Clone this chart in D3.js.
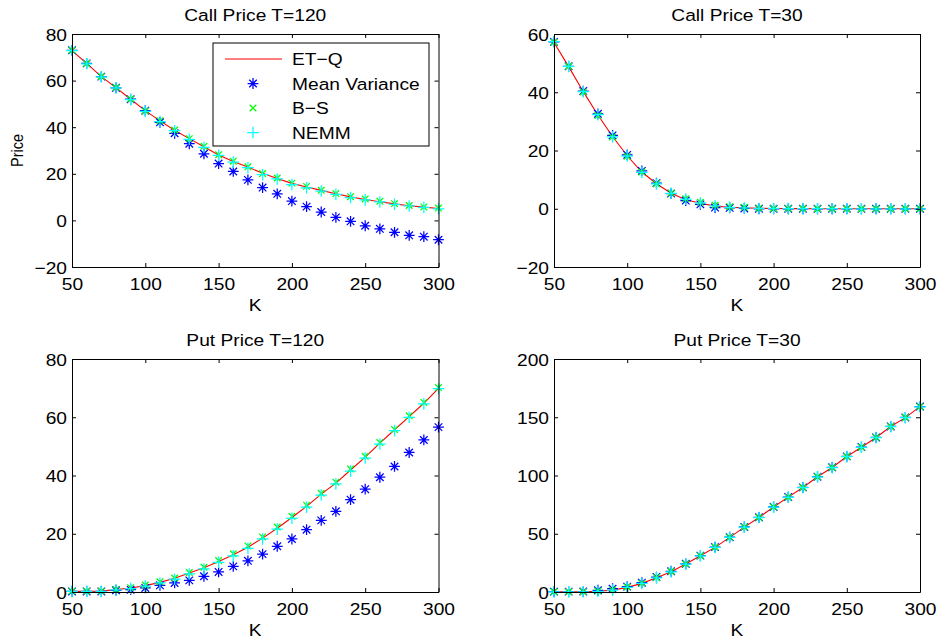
<!DOCTYPE html>
<html><head><meta charset="utf-8">
<script src="https://cdn.jsdelivr.net/npm/d3@7"></script>
<style>body{margin:0;background:#fff}svg{display:block}text{font-family:"Liberation Sans",Arial,Helvetica,sans-serif;fill:#000}</style>
</head><body>
<script>
// ---------- data ----------
const strikes = [50,60,70,80,90,100,110,120,130,140,150,160,170,180,190,200,210,220,230,240,250,260,270,280,290,300];
const seriesNames = ["ET\u2212Q","Mean Variance","B\u2212S","NEMM"];
const panelTitles = ["Call Price T=120","Call Price T=30","Put Price T=120","Put Price T=30"];
const xTicks = [50,100,150,200,250,300];
const yTicksCall120 = [-20,0,20,40,60,80];
const yTicksCall30 = [-20,0,20,40,60];
const yTicksPut120 = [0,20,40,60,80];
const yTicksPut30 = [0,50,100,150,200];

const call120_ETQ  = [72.9,67.4,61.7,57.0,52.0,47.1,42.7,38.7,35.1,31.6,28.1,25.3,22.9,20.2,18.0,15.9,14.3,12.9,11.4,10.1,9.0,8.0,7.1,6.3,5.7,5.1];
const call120_MV   = [73.0,67.4,61.7,56.9,52.0,47.1,42.1,37.4,32.9,28.6,24.4,21.0,17.4,14.1,11.4,8.3,5.9,3.6,1.3,-0.4,-2.3,-3.6,-5.1,-6.4,-7.0,-8.3];
const call120_BS   = [73.0,67.3,61.8,57.0,52.1,47.0,42.8,38.8,35.1,31.8,28.2,25.4,23.0,20.1,18.2,16.0,14.6,12.9,11.5,10.2,9.2,8.2,7.2,6.4,5.8,5.3];
const call120_NEMM = [72.9,67.2,61.6,56.9,51.8,46.8,42.4,38.5,34.8,31.3,27.9,25.0,22.6,19.6,17.8,15.4,14.0,12.6,11.2,9.8,8.8,7.9,6.9,6.2,5.6,5.0];

const call30_ETQ   = [57.1,48.8,40.2,32.2,24.8,18.2,12.6,8.6,5.3,3.1,1.9,0.9,0.5,0.3,0.15,0.1,0.05,0.03,0.02,0.01,0.01,0,0,0,0,0];
const call30_MV    = [57.3,48.9,40.4,32.6,25.2,18.5,13.0,8.8,5.2,2.8,1.5,0.4,0.3,0.1,0,0,0,0,0,0,0,0,0,0,0,0];
const call30_BS    = [57.2,48.9,40.1,32.0,24.6,18.0,12.6,8.6,5.4,3.4,2.2,1.2,0.7,0.5,0.2,0.1,0.1,0.05,0.03,0.02,0.01,0,0,0,0,0];
const call30_NEMM  = [57.4,48.9,40.2,32.3,24.7,18.1,12.5,8.5,5.3,3.3,2.0,1.0,0.5,0.3,0.1,0.1,0.05,0.03,0.02,0.01,0.01,0,0,0,0,0];

const put120_ETQ   = [0.2,0.2,0.3,0.8,1.4,2.2,3.3,4.7,6.5,8.3,10.5,12.8,15.4,18.5,21.9,25.6,29.4,33.6,37.4,41.9,46.3,51.1,55.7,60.2,64.8,69.9];
const put120_MV    = [0.2,0.2,0.2,0.6,0.8,1.4,2.3,3.1,4.0,5.4,6.9,8.8,10.7,13.0,15.7,18.2,21.4,24.6,27.7,31.7,35.3,39.4,43.1,47.9,52.2,56.6];
const put120_BS    = [0.3,0.3,0.3,0.9,1.5,2.4,3.5,4.8,6.7,8.5,10.8,13.1,15.8,18.9,22.3,26.0,29.8,33.9,37.7,42.2,46.6,51.3,55.8,60.5,65.1,70.2];
const put120_NEMM  = [0.2,0.2,0.2,0.7,1.2,2.0,3.1,4.4,6.2,7.9,10.2,12.4,15.0,18.2,21.6,25.3,29.1,33.3,37.1,41.5,46.0,50.8,55.4,60.0,64.6,69.8];

const put30_ETQ    = [0.1,0.1,0.2,0.6,1.6,4.0,7.4,12.2,17.4,24.0,31.1,38.3,46.9,55.7,64.0,72.9,81.4,89.7,98.9,106.9,116.3,124.3,132.6,142.0,149.7,159.1];
const put30_MV     = [0.3,0.3,0.4,1.5,2.8,4.6,8.0,12.8,17.8,24.2,31.2,38.5,47.0,55.8,64.1,73.0,81.5,89.8,99.0,107.0,116.4,124.4,132.7,142.1,149.8,159.2];
const put30_BS     = [0.2,0.2,0.3,0.8,1.9,4.3,7.6,12.4,17.5,24.1,31.1,38.4,46.9,55.8,64.0,72.9,81.4,89.7,98.9,106.9,116.3,124.3,132.6,142.0,149.7,159.1];
const put30_NEMM   = [0.1,0.1,0.2,0.6,1.6,3.9,7.3,12.1,17.3,23.9,31.0,38.2,46.8,55.6,63.9,72.8,81.3,89.6,98.8,106.8,116.2,124.2,132.5,141.9,149.6,159.0];

// ---------- layout ----------
const W = 941, H = 642;
const SX = 1.13; // horizontal text stretch of the original rendering
const FONT = 17;
const panels = [
  {title: panelTitles[0], x0: 72,  x1: 438.5, y0: 34,  y1: 267, yTicks: yTicksCall120, s: [call120_ETQ, call120_MV, call120_BS, call120_NEMM], legend: true, ylabel: "Price"},
  {title: panelTitles[1], x0: 554, x1: 920,   y0: 34,  y1: 267, yTicks: yTicksCall30,  s: [call30_ETQ, call30_MV, call30_BS, call30_NEMM]},
  {title: panelTitles[2], x0: 72,  x1: 438.5, y0: 359, y1: 592, yTicks: yTicksPut120,  s: [put120_ETQ, put120_MV, put120_BS, put120_NEMM]},
  {title: panelTitles[3], x0: 554, x1: 920,   y0: 359, y1: 592, yTicks: yTicksPut30,   s: [put30_ETQ, put30_MV, put30_BS, put30_NEMM]}
];

const svg = d3.select("body").append("svg").attr("width", W).attr("height", H);
svg.append("rect").attr("width", W).attr("height", H).attr("fill", "#fff");

function label(g, x, y, s, size, anchor, rot) {
  return g.append("text")
    .attr("transform", `translate(${x},${y}) scale(${SX},1)` + (rot ? " rotate(-90)" : ""))
    .attr("text-anchor", anchor).style("font-size", size + "px").text(s);
}

const markers = {
  star: r => { const d = r * 0.7; return `M${-r},0H${r}M0,${-r}V${r}M${-d},${-d}L${d},${d}M${-d},${d}L${d},${-d}`; },
  cross: r => `M${-r},${-r}L${r},${r}M${-r},${r}L${r},${-r}`,
  plus: r => `M${-r},0H${r}M0,${-r}V${r}`
};
const styles = [
  null,
  {path: markers.star(5.4), color: "#0000ff"},
  {path: markers.cross(3.3), color: "#00ff00"},
  {path: markers.plus(5.8), color: "#00ffff"}
];

panels.forEach(p => {
  const g = svg.append("g");
  const x = d3.scaleLinear().domain([50, 300]).range([p.x0, p.x1]);
  const yDom = d3.extent(p.yTicks);
  const y = d3.scaleLinear().domain(yDom).range([p.y1, p.y0]);

  const clipId = "clip" + p.x0 + "_" + p.y0;
  g.append("clipPath").attr("id", clipId).append("rect")
    .attr("x", p.x0 - 8).attr("y", p.y0 - 8).attr("width", p.x1 - p.x0 + 16).attr("height", p.y1 - p.y0 + 16);
  const plot = g.append("g").attr("clip-path", `url(#${clipId})`);

  // ET-Q line
  plot.append("path").datum(p.s[0])
    .attr("fill", "none").attr("stroke", "#ff0000").attr("stroke-width", 1.1)
    .attr("d", d3.line().x((d, i) => x(strikes[i])).y(d => y(d)));

  // markers
  for (let k = 1; k <= 3; k++) {
    plot.append("g").selectAll("path").data(p.s[k]).join("path")
      .attr("transform", (d, i) => `translate(${x(strikes[i])},${y(d)})`)
      .attr("d", styles[k].path).attr("fill", "none")
      .attr("stroke", styles[k].color).attr("stroke-width", 1.25);
  }

  // axes (inward ticks on all four sides)
  const tl = 4;
  const ax = g.append("g");
  const bottom = ax.append("g").attr("transform", `translate(0,${p.y1})`)
    .call(d3.axisBottom(x).tickValues(xTicks).tickSize(-tl).tickSizeOuter(0).tickPadding(11).tickFormat(d3.format("d")));
  ax.append("g").attr("transform", `translate(0,${p.y0})`)
    .call(d3.axisTop(x).tickValues(xTicks).tickSize(-tl).tickSizeOuter(0).tickFormat(""));
  const left = ax.append("g").attr("transform", `translate(${p.x0},0)`)
    .call(d3.axisLeft(y).tickValues(p.yTicks).tickSize(-tl).tickSizeOuter(0).tickPadding(5).tickFormat(d3.format("d")));
  ax.append("g").attr("transform", `translate(${p.x1},0)`)
    .call(d3.axisRight(y).tickValues(p.yTicks).tickSize(-tl).tickSizeOuter(0).tickFormat(""));
  ax.selectAll(".domain, .tick line").attr("stroke", "#000").attr("stroke-width", 1);
  ax.selectAll(".tick text").style("font-size", FONT + "px")
    .style("font-family", '"Liberation Sans",Arial,Helvetica,sans-serif').attr("fill", "#000");
  bottom.selectAll(".tick text").attr("transform", `scale(${SX},1)`).attr("dy", null).attr("y", 23);
  left.selectAll(".tick text").attr("transform", `scale(${SX},1)`).attr("x", -5 / SX).attr("dy", "0.36em");

  // titles and labels
  const cx = (p.x0 + p.x1) / 2;
  label(g, cx, p.y0 - 13, p.title, FONT, "middle");
  label(g, cx, p.y1 + 44, "K", FONT, "middle");
  if (p.ylabel) label(g, 23, (p.y0 + p.y1) / 2, p.ylabel, 14.5, "middle", true);

  // legend
  if (p.legend) {
    const lg = g.append("g");
    lg.append("rect").attr("x", 213).attr("y", 43).attr("width", 216).attr("height", 103)
      .attr("fill", "#fff").attr("stroke", "#000").attr("stroke-width", 1);
    const rowY = d3.scalePoint().domain(seriesNames).range([59, 132.5]);
    seriesNames.forEach((name, k) => {
      const yy = rowY(name);
      if (k === 0) {
        lg.append("line").attr("x1", 225).attr("x2", 282).attr("y1", yy).attr("y2", yy)
          .attr("stroke", "#ff0000").attr("stroke-width", 1.1);
      } else {
        lg.append("path").attr("transform", `translate(253,${yy})`).attr("d", styles[k].path)
          .attr("fill", "none").attr("stroke", styles[k].color).attr("stroke-width", 1.25);
      }
      label(lg, 292, yy + 6.2, name, FONT, "start");
    });
  }
});
</script>
</body></html>
